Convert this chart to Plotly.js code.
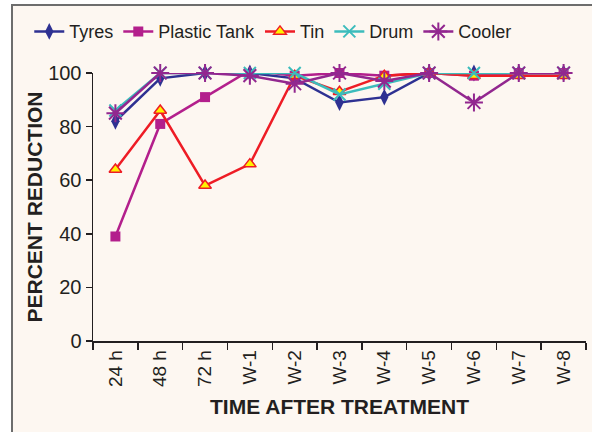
<!DOCTYPE html>
<html>
<head>
<meta charset="utf-8">
<script src="https://cdn.plot.ly/plotly-3.0.1.min.js"></script>
<style>
  html, body { margin: 0; padding: 0; background: #ffffff; width: 592px; height: 432px; overflow: hidden; }
  #frame { position: absolute; left: 11px; top: 4px; width: 581px; height: 428px;
           border-left: 2px solid #6d6d6d; border-top: 2px solid #6d6d6d; background: #fdf7f1; }
  #chart { position: absolute; left: 0; top: 0; width: 581px; height: 428px; }
</style>
</head>
<body>
<div id="frame"><div id="chart"></div></div>
<script>
const categories = ["24 h", "48 h", "72 h", "W-1", "W-2", "W-3", "W-4", "W-5", "W-6", "W-7", "W-8"];
const tyres       = [82, 98, 100, 100, 98, 89, 91, 100, 100, 100, 100];
const plasticTank = [39, 81, 91, 101, 99, 100, 99, 100, 99, 100, 100];
const tin         = [64, 86, 58, 66, 99, 93, 99, 100, 99, 99, 99];
const drum        = [86, 100, 100, 100, 100, 92, 96, 100, 100, 100, 100];
const cooler      = [85, 100, 100, 99, 96, 100, 97, 100, 89, 100, 100];
const yTicks = [0, 20, 40, 60, 80, 100];

function series(name, y, color, marker) {
  return {
    type: 'scatter', mode: 'lines+markers', name: name,
    x: categories, y: y, cliponaxis: false,
    line: { color: color, width: 2.5 },
    marker: marker
  };
}

const data = [
  series('Tyres', tyres, '#2e3192', { symbol: 'diamond-tall', size: 12, color: '#2e3192' }),
  series('Plastic Tank', plasticTank, '#b31f8c', { symbol: 'square', size: 10, color: '#b31f8c' }),
  series('Tin', tin, '#ee1c25', { symbol: 'triangle-up', size: 11, color: '#fff200', line: { color: '#ee1c25', width: 1.5 } }),
  series('Drum', drum, '#3cbcbc', { symbol: 'x-thin-open', size: 12, color: '#3cbcbc', line: { color: '#3cbcbc', width: 2 } }),
  series('Cooler', cooler, '#92278f', { symbol: 'asterisk-open', size: 15, color: '#92278f', line: { color: '#92278f', width: 2 } })
];

const font = 'Arial, "Liberation Sans", sans-serif';
const layout = {
  width: 581, height: 428,
  paper_bgcolor: '#fdf7f1', plot_bgcolor: '#fdf7f1',
  margin: { l: 80, r: 8, t: 67, b: 93 },
  font: { family: font, color: '#231f20', size: 18 },
  showlegend: true,
  legend: {
    orientation: 'h', xref: 'container', yref: 'container',
    x: 0.028, y: 0.94, xanchor: 'left', yanchor: 'middle',
    font: { size: 18, color: '#231f20' }, bgcolor: 'rgba(0,0,0,0)', itemwidth: 30, tracegroupgap: 0
  },
  xaxis: {
    type: 'category', range: [-0.5, 10.5],
    showline: true, linecolor: '#231f20', linewidth: 1.5,
    ticks: 'outside', ticklen: 7, tickcolor: '#231f20', tickwidth: 1.5, tickson: 'boundaries',
    tickangle: -90, tickfont: { size: 19, color: '#231f20' },
    showgrid: false, zeroline: false,
    title: { text: 'TIME AFTER TREATMENT', font: { size: 21, family: font, color: '#231f20', weight: 'bold' }, standoff: 13 }
  },
  yaxis: {
    range: [0, 100], tickvals: yTicks, ticktext: yTicks.map(String),
    showline: true, linecolor: '#231f20', linewidth: 1.5,
    ticks: 'outside', ticklen: 6, tickcolor: '#231f20', tickwidth: 1.5,
    tickfont: { size: 20, color: '#231f20' },
    showgrid: false, zeroline: false,
    title: { text: 'PERCENT REDUCTION', font: { size: 21, family: font, color: '#231f20', weight: 'bold' }, standoff: 0 }
  }
};

Plotly.newPlot('chart', data, layout, { displayModeBar: false, staticPlot: true });
</script>
</body>
</html>
